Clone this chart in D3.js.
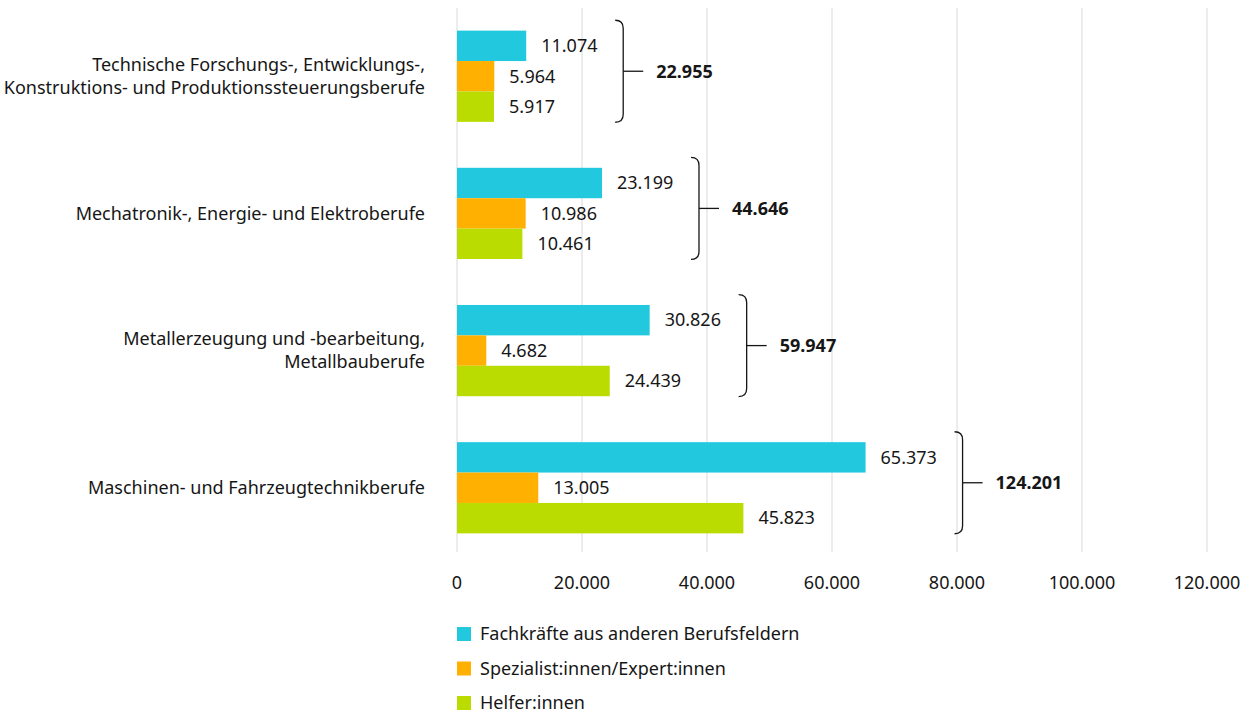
<script src="https://d3js.org/d3.v7.min.js"></script>
<style>
  body { margin: 0; background: #fff; }
  text { font-family: "Noto Sans", sans-serif; fill: #161616; }
</style>
<div id="container"></div>
<script>
  // chart size
  width = 1243
  height = 711

  // data
  var categories = [
    ["Technische Forschungs-, Entwicklungs-,", "Konstruktions- und Produktionssteuerungsberufe"],
    ["Mechatronik-, Energie- und Elektroberufe"],
    ["Metallerzeugung und -bearbeitung,", "Metallbauberufe"],
    ["Maschinen- und Fahrzeugtechnikberufe"]
  ];
  var seriesNames = ["Fachkräfte aus anderen Berufsfeldern", "Spezialist:innen/Expert:innen", "Helfer:innen"];
  var fachkraefte = [11074, 23199, 30826, 65373];
  var spezialisten = [5964, 10986, 4682, 13005];
  var helfer = [5917, 10461, 24439, 45823];
  var totals = [22955, 44646, 59947, 124201];
  var xTicks = [0, 20000, 40000, 60000, 80000, 100000, 120000];

  var colors = ["#22c9de", "#ffb000", "#badc00"];
  var series = [fachkraefte, spezialisten, helfer];

  var fmt = d3.formatLocale({decimal: ",", thousands: ".", grouping: [3], currency: ["", "€"]}).format(",d");

  var svg = d3.select("#container").append("svg")
    .attr("width", width)
    .attr("height", height);

  var x = d3.scaleLinear().domain([0, 120000]).range([457, 1207]);
  var y = d3.scaleBand().domain(d3.range(categories.length)).range([8, 556]).paddingInner(0.335).paddingOuter(0.165);
  var ySub = d3.scaleBand().domain(d3.range(series.length)).range([0, y.bandwidth()]);

  // gridlines
  svg.append("g").selectAll("line")
    .data(xTicks)
    .join("line")
    .attr("x1", d => x(d)).attr("x2", d => x(d))
    .attr("y1", 8).attr("y2", 552)
    .attr("stroke", "#d9d9d9")
    .attr("stroke-width", 1);

  // tick labels
  svg.append("g").selectAll("text")
    .data(xTicks)
    .join("text")
    .attr("x", d => x(d))
    .attr("y", 583)
    .attr("dy", "0.35em")
    .attr("text-anchor", "middle")
    .style("font-size", "18px")
    .text(d => fmt(d));

  // bars + labels
  series.forEach(function(vals, s) {
    var g = svg.append("g");
    g.selectAll("rect")
      .data(vals)
      .join("rect")
      .attr("x", x(0))
      .attr("y", (d, i) => y(i) + ySub(s))
      .attr("width", d => x(d) - x(0))
      .attr("height", ySub.bandwidth())
      .attr("fill", colors[s]);
    g.selectAll("text")
      .data(vals)
      .join("text")
      .attr("x", d => x(d) + 15)
      .attr("y", (d, i) => y(i) + ySub(s) + ySub.bandwidth() / 2)
      .attr("dy", "0.35em")
      .style("font-size", "18px")
      .text(d => fmt(d));
  });

  // category labels
  categories.forEach(function(lines, i) {
    var t = svg.append("text")
      .attr("text-anchor", "end")
      .style("font-size", "18px");
    var cy = y(i) + y.bandwidth() / 2;
    lines.forEach(function(line, k) {
      t.append("tspan")
        .attr("x", 425)
        .attr("y", cy + (k - (lines.length - 1) / 2) * 23)
        .attr("dy", "0.35em")
        .text(line);
    });
  });

  // braces + totals
  totals.forEach(function(total, i) {
    var maxVal = d3.max(series, s => s[i]);
    var bx = x(maxVal) + 89;
    var cy = y(i) + y.bandwidth() / 2 - 5;
    var top = cy - 51, bot = cy + 51, w = 8;
    var path = "M" + bx + "," + top +
      " Q" + (bx + w) + "," + top + " " + (bx + w) + "," + (top + 8) +
      " L" + (bx + w) + "," + (bot - 8) +
      " Q" + (bx + w) + "," + bot + " " + bx + "," + bot;
    svg.append("path")
      .attr("d", path)
      .attr("fill", "none")
      .attr("stroke", "#161616")
      .attr("stroke-width", 1.3);
    svg.append("line")
      .attr("x1", bx + w).attr("x2", bx + w + 20)
      .attr("y1", cy).attr("y2", cy)
      .attr("stroke", "#161616")
      .attr("stroke-width", 1.3);
    svg.append("text")
      .attr("x", bx + w + 33)
      .attr("y", cy)
      .attr("dy", "0.35em")
      .style("font-size", "18px")
      .style("font-weight", "bold")
      .text(fmt(total));
  });

  // legend
  var legend = svg.append("g").selectAll("g")
    .data(seriesNames)
    .join("g")
    .attr("transform", (d, i) => "translate(457," + (634 + i * 34.5) + ")");
  legend.append("rect")
    .attr("x", 0).attr("y", -7)
    .attr("width", 14).attr("height", 14)
    .attr("fill", (d, i) => colors[i]);
  legend.append("text")
    .attr("x", 23)
    .attr("dy", "0.35em")
    .style("font-size", "18px")
    .text(d => d);
</script>
